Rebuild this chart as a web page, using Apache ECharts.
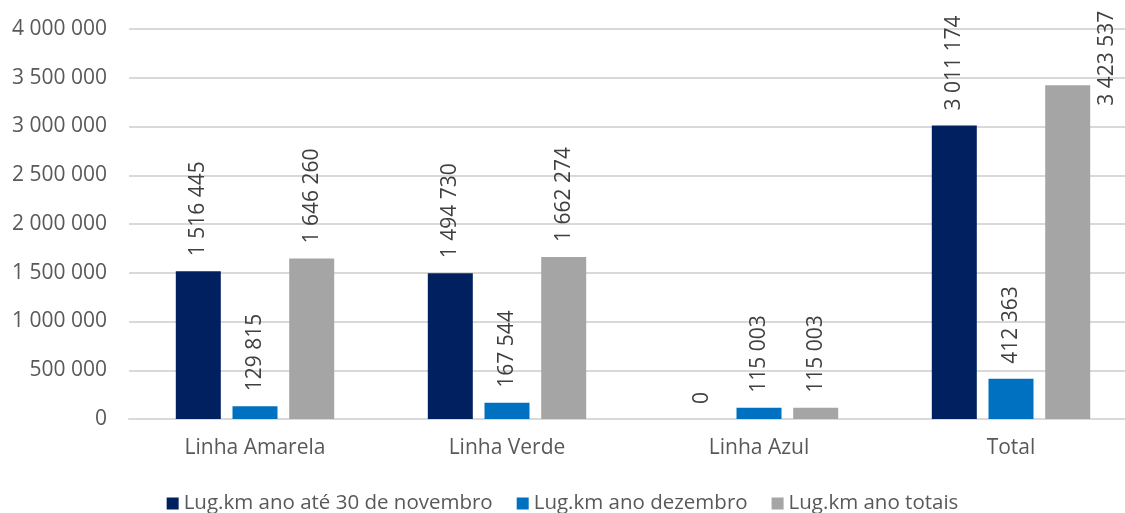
<!DOCTYPE html>
<html>
<head>
<meta charset="utf-8">
<script src="https://cdn.jsdelivr.net/npm/echarts@6/dist/echarts.min.js"></script>
<style>
html,body{margin:0;padding:0;background:#fff;overflow:hidden;}
#chart{width:1125px;height:513px;}
</style>
</head>
<body>
<div id="chart"></div>
<script>
const categories = ['Linha Amarela', 'Linha Verde', 'Linha Azul', 'Total'];
const seriesNames = ['Lug.km ano até 30 de novembro', 'Lug.km ano dezembro', 'Lug.km ano totais'];
const novembro = [1516445, 1494730, 0, 3011174];
const dezembro = [129815, 167544, 115003, 412363];
const totais = [1646260, 1662274, 115003, 3423537];
const yTicks = [0, 500000, 1000000, 1500000, 2000000, 2500000, 3000000, 3500000, 4000000];

const colors = ['#002060', '#0070C0', '#A5A5A5'];
const FONT = 'Open Sans';
const FS = 21;
function fmt(v) { return String(v).replace(/\B(?=(\d{3})+(?!\d))/g, ' '); }

const baseLabel = {
  show: true, position: 'top', rotate: 90, align: 'left', verticalAlign: 'middle',
  distance: 15, color: '#404040', fontFamily: FONT, fontSize: FS,
  formatter: p => fmt(p.value)
};

function makeSeries(name, values, idx) {
  return {
    name: name, type: 'bar', barWidth: 45, barGap: '26%',
    itemStyle: { color: colors[idx] },
    label: baseLabel,
    data: values.map((v, i) => {
      // last total label is pushed beside the bar (chart edge)
      if (idx === 2 && i === values.length - 1) {
        return { value: v, label: { position: [62, -27], align: 'center', verticalAlign: 'middle' } };
      }
      return v;
    })
  };
}

const chart = echarts.init(document.getElementById('chart'));
chart.setOption({
  animation: false,
  textStyle: { fontFamily: FONT },
  grid: { left: 129, width: 1008, top: 29, height: 390, containLabel: false, outerBoundsMode: 'none' },
  legend: {
    top: 488, left: 'center', itemWidth: 12, itemHeight: 12, itemGap: 24,
    icon: 'rect',
    textStyle: { color: '#595959', fontFamily: FONT, fontSize: 20.5 },
    data: seriesNames
  },
  xAxis: {
    type: 'category', data: categories,
    axisLine: { lineStyle: { color: '#D9D9D9', width: 2 } },
    axisTick: { show: false },
    axisLabel: { color: '#595959', fontFamily: FONT, fontSize: FS, margin: 19 }
  },
  yAxis: {
    type: 'value', min: yTicks[0], max: yTicks[yTicks.length - 1], interval: yTicks[1] - yTicks[0],
    axisLine: { show: false }, axisTick: { show: false },
    splitLine: { lineStyle: { color: '#D9D9D9', width: 2 } },
    axisLabel: { color: '#595959', fontFamily: FONT, fontSize: FS, margin: 22, formatter: v => fmt(v) }
  },
  series: [
    makeSeries(seriesNames[0], novembro, 0),
    makeSeries(seriesNames[1], dezembro, 1),
    makeSeries(seriesNames[2], totais, 2)
  ]
});
</script>
</body>
</html>
